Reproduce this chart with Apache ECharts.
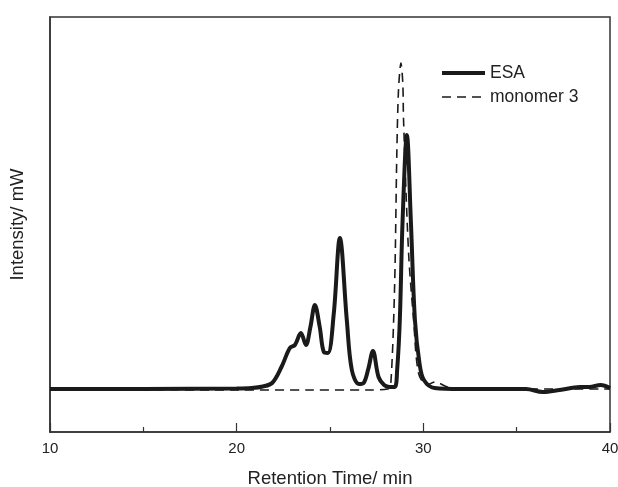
<!DOCTYPE html>
<html>
<head>
<meta charset="utf-8">
<script src="https://cdn.jsdelivr.net/npm/echarts@6/dist/echarts.min.js"></script>
<style>
  html, body { margin: 0; padding: 0; background: #fff; }
  #chart { width: 618px; height: 487px; }
</style>
</head>
<body>
<div id="chart"></div>
<script>
// retention time (min) / intensity (arbitrary units)
const esaTime = [10, 15, 20, 20.8, 21.4, 21.9, 22.4, 22.85, 23.12, 23.44, 23.71, 23.95, 24.19, 24.45, 24.67, 24.89, 25.2, 25.53, 25.9, 26.17, 26.55, 26.8, 27.05, 27.3, 27.6, 27.9, 28.2, 28.47, 28.6, 28.74, 28.89, 29.12, 29.33, 29.55, 29.8, 30.03, 30.6, 32, 34, 35.5, 36.4, 37.3, 38.4, 38.9, 39.5, 40];
const esaValue = [0, 0, 0.5, 1, 2.5, 6, 22, 41, 44, 56, 44, 62, 84, 62, 37, 36, 75, 151, 69, 19, 5, 6, 20, 38, 12, 4, 2, 2, 20, 69, 169, 254, 169, 69, 25, 9, 1, 0, 0, 0, -3, -1, 2, 2, 4, 1];

const monoTime = [10, 20, 24, 27, 28.1, 28.26, 28.46, 28.58, 28.67, 28.8, 28.9, 28.94, 29.21, 29.48, 29.74, 30.19, 30.62, 31.3, 32, 36, 40];
const monoValue = [0, -1, -1, -1, 0, 6, 102, 236, 299, 326, 306, 269, 136, 69, 16, 4, 7, 2, 0, 0, 0];

const xTicks = [10, 20, 30, 40];

const esaData = esaTime.map((t, i) => [t, esaValue[i]]);
const monoData = monoTime.map((t, i) => [t, monoValue[i]]);

const chart = echarts.init(document.getElementById('chart'));

const option = {
  animation: false,
  backgroundColor: '#fff',
  textStyle: { fontFamily: 'Liberation Sans, Arial, sans-serif' },
  grid: {
    left: 50,
    right: 8,
    top: 17,
    bottom: 55,
    show: true,
    borderColor: '#333',
    borderWidth: 1.5,
    containLabel: false,
    outerBoundsMode: 'none'
  },
  legend: {
    orient: 'vertical',
    left: 435,
    top: 59,
    itemWidth: 43,
    itemHeight: 14,
    itemGap: 6,
    itemStyle: { opacity: 0 },
    textStyle: { fontSize: 17.5, color: '#222', fontFamily: 'Liberation Sans, Arial, sans-serif' },
    data: [
      { name: 'ESA', lineStyle: { width: 4 } },
      { name: 'monomer 3', lineStyle: { width: 1.6 } }
    ]
  },
  xAxis: {
    type: 'value',
    min: xTicks[0],
    max: xTicks[xTicks.length - 1],
    interval: 10,
    name: 'Retention Time/ min',
    nameLocation: 'middle',
    nameGap: 37,
    nameTextStyle: { fontSize: 18.5, color: '#222' },
    axisLine: { show: true, onZero: false, lineStyle: { color: '#333', width: 1.5 } },
    axisTick: { show: true, inside: true, length: 9, lineStyle: { color: '#333', width: 1.2 } },
    minorTick: { show: true, splitNumber: 2, length: 5, lineStyle: { color: '#333', width: 1.2 } },
    axisLabel: { fontSize: 15, color: '#222', margin: 9 },
    splitLine: { show: false }
  },
  yAxis: {
    type: 'value',
    min: -43,
    max: 372,
    name: 'Intensity/ mW',
    nameLocation: 'middle',
    nameGap: 23,
    nameTextStyle: { fontSize: 18.5, color: '#222' },
    axisLine: { show: true, onZero: false, lineStyle: { color: '#333', width: 1.5 } },
    axisTick: { show: false },
    axisLabel: { show: false },
    splitLine: { show: false }
  },
  series: [
    {
      name: 'ESA',
      type: 'line',
      data: esaData,
      showSymbol: false,
      symbol: 'none',
      smooth: 0.35,
      lineStyle: { color: '#1a1a1a', width: 4 },
      itemStyle: { color: '#1a1a1a' },
      z: 3
    },
    {
      name: 'monomer 3',
      type: 'line',
      data: monoData,
      showSymbol: false,
      symbol: 'none',
      smooth: 0.3,
      lineStyle: { color: '#1a1a1a', width: 1.6, type: [9, 6] },
      itemStyle: { color: '#1a1a1a' },
      z: 2
    }
  ]
};

chart.setOption(option);
</script>
</body>
</html>
